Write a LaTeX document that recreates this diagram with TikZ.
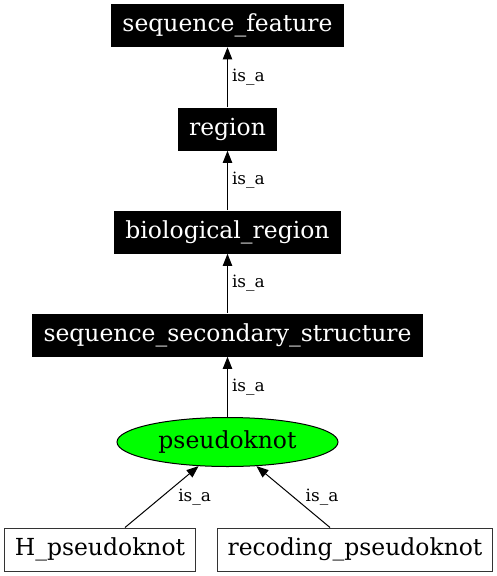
\documentclass[tikz,border=0pt]{standalone}
\usepackage{fontspec}
\setmainfont{DejaVu Serif}
\usepackage{xcolor}
\usepackage{tikz}
\usetikzlibrary{arrows.meta,shapes.geometric}
\definecolor{termgreen}{HTML}{00FF00}

\begin{document}
\begin{tikzpicture}[
  x=0.75pt, y=-0.75pt,
  >={Triangle[length=9pt,width=7pt]},
  term/.style={fill=black, text=white, font=\fontsize{17.6}{20}\selectfont,
               inner xsep=8.3pt, inner ysep=0pt, minimum height=32.25pt},
  leaf/.style={draw=black!80, fill=white, line width=0.75pt,
               font=\fontsize{17.6}{20}\selectfont,
               inner xsep=7.5pt, inner ysep=0pt, minimum height=32.25pt},
  focus/.style={ellipse, draw=black, line width=0.75pt, fill=termgreen,
                font=\fontsize{17.6}{20}\selectfont, inner sep=0pt,
                minimum width=165.75pt, minimum height=36.75pt},
  flow/.style={->, draw=black, line width=0.75pt},
  lbl/.style={font=\fontsize{12.7}{15}\selectfont, anchor=west, inner sep=3pt}
]
\useasboundingbox (0,0) rectangle (497,576);
\node[term]  (sf)  at (227.5,25.5) {sequence\_feature};
\node[term]  (reg) at (227.5,129)  {region};
\node[term]  (bio) at (227.5,232)  {biological\_region};
\node[term]  (sss) at (227.5,335)  {sequence\_secondary\_structure};
\node[focus] (pk)  at (227.5,442)  {pseudoknot};
\node[leaf]  (hpk) at (100,549.5)  {H\_pseudoknot};
\node[leaf]  (rpk) at (355,549.5)  {recoding\_pseudoknot};
\draw[flow] (reg) -- node[lbl] {is\_a} (sf);
\draw[flow] (bio) -- node[lbl] {is\_a} (reg);
\draw[flow] (sss) -- node[lbl] {is\_a} (bio);
\draw[flow] (pk)  -- node[lbl] {is\_a} (sss);
\draw[flow] ([xshift=18.75pt]hpk.north)  -- node[lbl, xshift=9pt] {is\_a} (pk);
\draw[flow] ([xshift=-18.75pt]rpk.north) -- node[lbl, xshift=6pt] {is\_a} (pk);
\end{tikzpicture}
\end{document}
